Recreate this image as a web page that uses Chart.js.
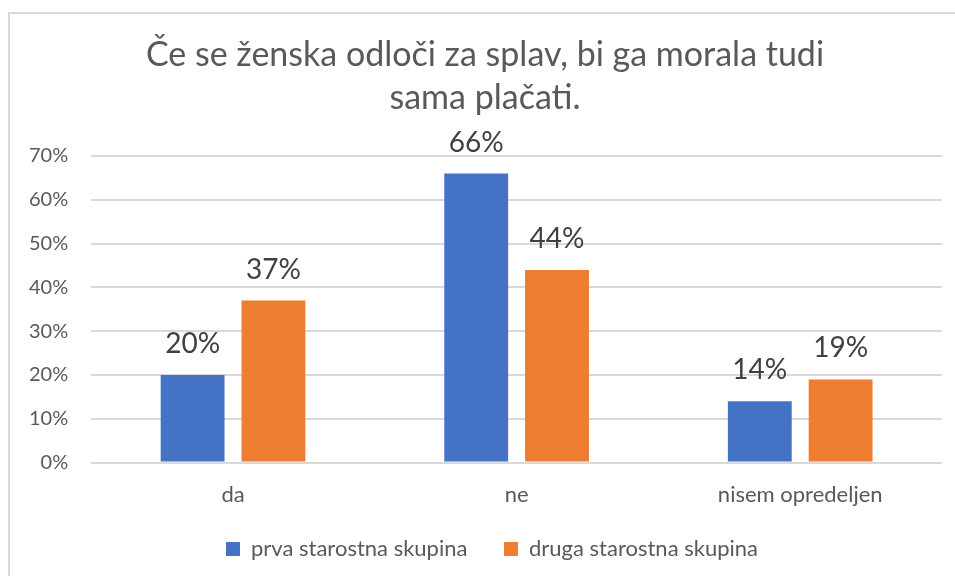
<!DOCTYPE html>
<html>
<head>
<meta charset="utf-8">
<script src="https://cdn.jsdelivr.net/npm/chart.js@4"></script>
<style>
    html, body { margin: 0; padding: 0; background: #fff; }
    #wrap { position: relative; width: 955px; height: 576px; overflow: hidden; }
    #frame { position: absolute; left: 8px; top: 12px; width: 960px; height: 600px;
             border-top: 2px solid #d9d9d9; border-left: 2px solid #d9d9d9; }
    #chart { position: absolute; left: 0; top: 0; }
</style>
</head>
<body>
<div id="wrap">
    <div id="frame"></div>
    <canvas id="chart" width="955" height="576"></canvas>
</div>
<script>
const categories = ['da', 'ne', 'nisem opredeljen'];
const prvaSkupina = [20, 66, 14];
const drugaSkupina = [37, 44, 19];
const seriesNames = ['prva starostna skupina', 'druga starostna skupina'];
const titleLines = ['Če se ženska odloči za splav, bi ga morala tudi', 'sama plačati.'];

const fontFam = 'Lato, "Open Sans", sans-serif';
const textGray = '#595959';
const nb = '\u00a0';

// value labels above each bar
const barLabels = {
    id: 'barLabels',
    afterDatasetsDraw(chart) {
        const ctx = chart.ctx;
        ctx.save();
        ctx.font = '28px ' + fontFam;
        ctx.fillStyle = '#404040';
        ctx.textAlign = 'center';
        ctx.textBaseline = 'bottom';
        chart.data.datasets.forEach((ds, i) => {
            const meta = chart.getDatasetMeta(i);
            meta.data.forEach((bar, j) => {
                ctx.fillText(ds.data[j] + '%', bar.x, bar.y - 17);
            });
        });
        ctx.restore();
    }
};

// the original centres title and legend a bit right of the canvas middle
const nudge = {
    id: 'nudge',
    afterLayout(chart) {
        chart.titleBlock.left += 11;
        chart.titleBlock.right += 11;
        chart.legend.left += 18;
        chart.legend.right += 18;
    }
};

const chartEl = document.getElementById('chart');

new Chart(chartEl, {
    type: 'bar',
    data: {
        labels: categories,
        datasets: [{
            label: seriesNames[0],
            data: prvaSkupina,
            backgroundColor: '#4472c4',
            categoryPercentage: 0.57,
            barPercentage: 0.79
        },
        {
            label: seriesNames[1],
            data: drugaSkupina,
            backgroundColor: '#ed7d31',
            categoryPercentage: 0.57,
            barPercentage: 0.79
        }]
    },
    options: {
        responsive: false,
        animation: false,
        layout: {
            padding: { left: 6, right: 13, top: 34, bottom: 6 }
        },
        plugins: {
            title: {
                display: true,
                text: titleLines,
                color: textGray,
                font: { family: fontFam, size: 34, weight: 'normal', lineHeight: 1.265 },
                padding: { top: 0, bottom: 36 }
            },
            legend: {
                position: 'bottom',
                labels: {
                    color: textGray,
                    font: { family: fontFam, size: 22 },
                    boxWidth: 14,
                    boxHeight: 14,
                    padding: 14,
                    generateLabels: (chart) => {
                        const items = Chart.defaults.plugins.legend.labels.generateLabels(chart);
                        items[0].text = items[0].text + nb.repeat(4);
                        return items;
                    }
                }
            },
            tooltip: { enabled: false }
        },
        scales: {
            x: {
                grid: { display: false },
                border: { display: false },
                ticks: {
                    color: textGray,
                    font: { family: fontFam, size: 22 },
                    padding: 11
                },
                afterFit: (scale) => { scale.height += 5; }
            },
            y: {
                min: 0,
                max: 70,
                border: { display: false },
                grid: { color: '#d9d9d9', lineWidth: 2, drawTicks: false },
                ticks: {
                    stepSize: 10,
                    color: textGray,
                    font: { family: fontFam, size: 20 },
                    padding: 23,
                    callback: (v) => v + '%'
                }
            }
        }
    },
    plugins: [barLabels, nudge]
});
</script>
</body>
</html>
